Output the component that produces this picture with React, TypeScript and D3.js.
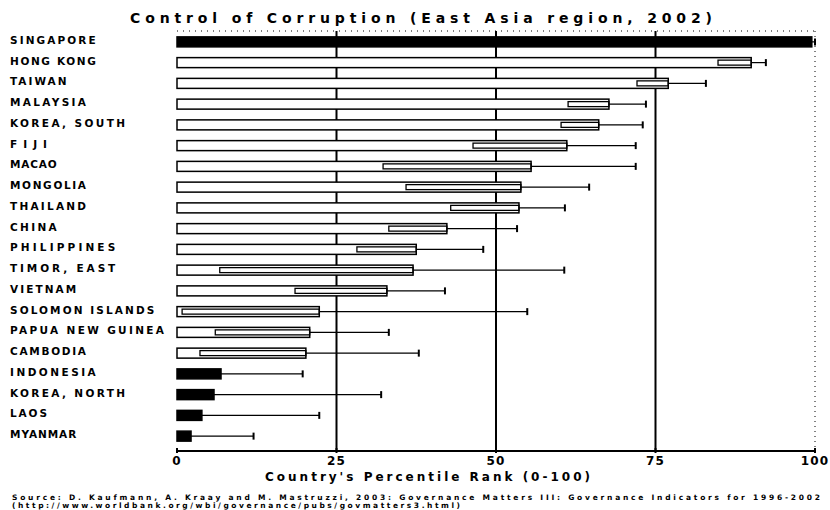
import React from "react";
import * as d3 from "d3";

const countries = [
  "SINGAPORE", "HONG KONG", "TAIWAN", "MALAYSIA", "KOREA, SOUTH", "FIJI", "MACAO",
  "MONGOLIA", "THAILAND", "CHINA", "PHILIPPINES", "TIMOR, EAST", "VIETNAM",
  "SOLOMON ISLANDS", "PAPUA NEW GUINEA", "CAMBODIA", "INDONESIA", "KOREA, NORTH",
  "LAOS", "MYANMAR",
];
const rank = [99.5, 90.0, 77.0, 67.7, 66.1, 61.1, 55.5, 53.9, 53.6, 42.3, 37.5, 37.0, 32.9, 22.3, 20.8, 20.2, 6.9, 5.8, 3.9, 2.2];
const lower = [96.0, 84.8, 72.1, 61.3, 60.2, 46.4, 32.3, 35.9, 42.9, 33.2, 28.2, 6.7, 18.5, 0.8, 6.0, 3.6, 0.5, 0.5, 0.5, 0.5];
const upper = [100, 92.3, 82.9, 73.5, 73.0, 71.9, 71.9, 64.6, 60.8, 53.3, 48.0, 60.7, 42.0, 54.9, 33.2, 37.9, 19.7, 32.0, 22.3, 12.0];
const group = ["top", "mid", "mid", "mid", "mid", "mid", "mid", "mid", "mid", "mid", "mid", "mid", "mid", "mid", "mid", "mid", "bottom", "bottom", "bottom", "bottom"];
const ticks = [0, 25, 50, 75, 100];
const title = "Control of Corruption (East Asia region, 2002)";
const xTitle = "Country's Percentile Rank (0-100)";
const source1 = "Source: D. Kaufmann, A. Kraay and M. Mastruzzi, 2003: Governance Matters III: Governance Indicators for 1996-2002";
const source2 = "(http://www.worldbank.org/wbi/governance/pubs/govmatters3.html)";

const W = 830, H = 510;
const FONT = "'DejaVu Sans', sans-serif";

export default function App() {
  const x = d3.scaleLinear().domain([0, 100]).range([177, 815]);
  const y = d3.scaleBand<string>().domain(countries).range([31.5, 446.5]);
  const bh = 10;
  const axisY = 451;
  const top = 31;
  const charW = 9.75;

  return (
    <svg width={W} height={H} style={{ position: "absolute", left: 0, top: 0, background: "#fff" }}>
      <rect x={0} y={0} width={W} height={H} fill="#fff" />
      <text x={130} y={23} fontFamily={FONT} fontWeight="bold" fontSize={14} textLength={582} lengthAdjust="spacing" fill="#000">{title}</text>
      <line x1={x(0)} x2={x(100)} y1={top} y2={top} stroke="#000" strokeWidth={1} strokeDasharray="1,5" />
      <line x1={x(100)} x2={x(100)} y1={top} y2={axisY} stroke="#000" strokeWidth={1} strokeDasharray="1,4" />
      {ticks.filter(t => t > 0 && t < 100).map(t => (
        <line key={t} x1={x(t)} x2={x(t)} y1={top} y2={axisY} stroke="#000" strokeWidth={2} />
      ))}
      {countries.map((c, i) => {
        const cy = (y(c) as number) + y.bandwidth() / 2;
        const dark = group[i] !== "mid";
        const x0 = x(0), xr = x(rank[i]), xl = x(lower[i]), xu = x(upper[i]);
        return (
          <g key={c}>
            <line x1={xr} x2={xu} y1={cy} y2={cy} stroke="#000" strokeWidth={1.2} />
            <line x1={xu} x2={xu} y1={cy - 3.5} y2={cy + 3.5} stroke="#000" strokeWidth={2} />
            <rect x={x0} y={cy - bh / 2} width={xr - x0} height={bh} fill={dark ? "#000" : "#fff"} stroke="#000" strokeWidth={1.5} />
            {!dark && (
              <rect x={xl} y={cy - bh / 2 + 2.5} width={Math.max(0, xr - xl)} height={bh - 5} fill="none" stroke="#000" strokeWidth={1.3} />
            )}
            <text x={10} y={cy + 2} fontFamily={FONT} fontWeight="bold" fontSize={10.5} textLength={c.length * charW - 2} lengthAdjust="spacing" fill="#000">{c}</text>
          </g>
        );
      })}
      <line x1={x(0)} x2={x(100)} y1={axisY} y2={axisY} stroke="#000" strokeWidth={2} />
      {ticks.map(t => (
        <g key={t}>
          <line x1={x(t)} x2={x(t)} y1={axisY - 3} y2={axisY + 2} stroke="#000" strokeWidth={2} />
          <text x={x(t)} y={465} textAnchor="middle" fontFamily={FONT} fontWeight="bold" fontSize={12} letterSpacing={1.2} fill="#000">{t}</text>
        </g>
      ))}
      <text x={265} y={481} fontFamily={FONT} fontWeight="bold" fontSize={12} textLength={325} lengthAdjust="spacing" fill="#000">{xTitle}</text>
      <text x={12} y={500} fontFamily={FONT} fontSize={7.5} fontWeight="bold" textLength={808} lengthAdjust="spacing" fill="#000">{source1}</text>
      <text x={12} y={508} fontFamily={FONT} fontSize={7.5} fontWeight="bold" textLength={448} lengthAdjust="spacing" fill="#000">{source2}</text>
    </svg>
  );
}
